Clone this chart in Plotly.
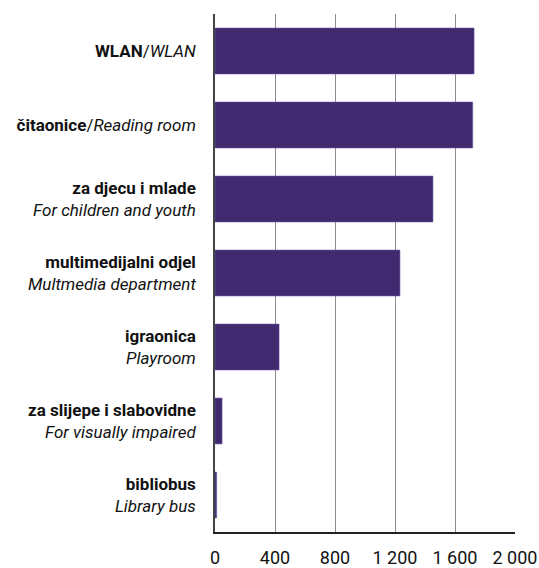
import plotly.graph_objects as go

categories_hr = ["WLAN", "čitaonice", "za djecu i mlade", "multimedijalni odjel",
                 "igraonica", "za slijepe i slabovidne", "bibliobus"]
categories_en = ["WLAN", "Reading room", "For children and youth", "Multmedia department",
                 "Playroom", "For visually impaired", "Library bus"]
single_line = [True, True, False, False, False, False, False]
values = [1727, 1718, 1453, 1233, 427, 47, 11]
tick_vals = [0, 400, 800, 1200, 1600, 2000]
tick_text = ["0", "400", "800", "1 200", "1 600", "2 000"]

labels = []
for hr, en, single in zip(categories_hr, categories_en, single_line):
    if single:
        labels.append(f"<b>{hr}</b>/<i>{en}</i>")
    else:
        labels.append(f"<b>{hr}</b><br><i>{en}</i>")

FONT = "Roboto, Liberation Sans, sans-serif"

fig = go.Figure(go.Bar(
    x=values,
    y=labels,
    orientation="h",
    marker=dict(color="#41296f", line=dict(color="#6a58a0", width=0.6)),
    width=0.62,
    hoverinfo="skip",
))

fig.update_layout(
    width=539, height=568,
    margin=dict(l=215, r=24, t=14, b=36, autoexpand=False),
    plot_bgcolor="white", paper_bgcolor="white",
    showlegend=False,
    font=dict(family=FONT, color="#111111"),
)
fig.update_xaxes(
    range=[0, 2000], tickvals=tick_vals, ticktext=tick_text,
    showgrid=True, gridcolor="#8c8c8c", gridwidth=1.3,
    zeroline=False, showline=True, linecolor="#222222", linewidth=1.5,
    tickfont=dict(size=18, family=FONT, color="#111111"),
    ticks="", ticklabelstandoff=9, automargin=False,
    ticklabeloverflow="allow",
)
fig.update_yaxes(
    autorange="reversed",
    showgrid=False, zeroline=False,
    showline=True, linecolor="#444444", linewidth=1.5,
    tickfont=dict(size=17, family=FONT, color="#111111"),
    ticks="", ticklabelstandoff=14, automargin=False,
)
fig.write_html(
    "out.html",
    config={"displayModeBar": False},
    post_script="document.body.style.margin='0';document.body.style.overflow='hidden';",
)
